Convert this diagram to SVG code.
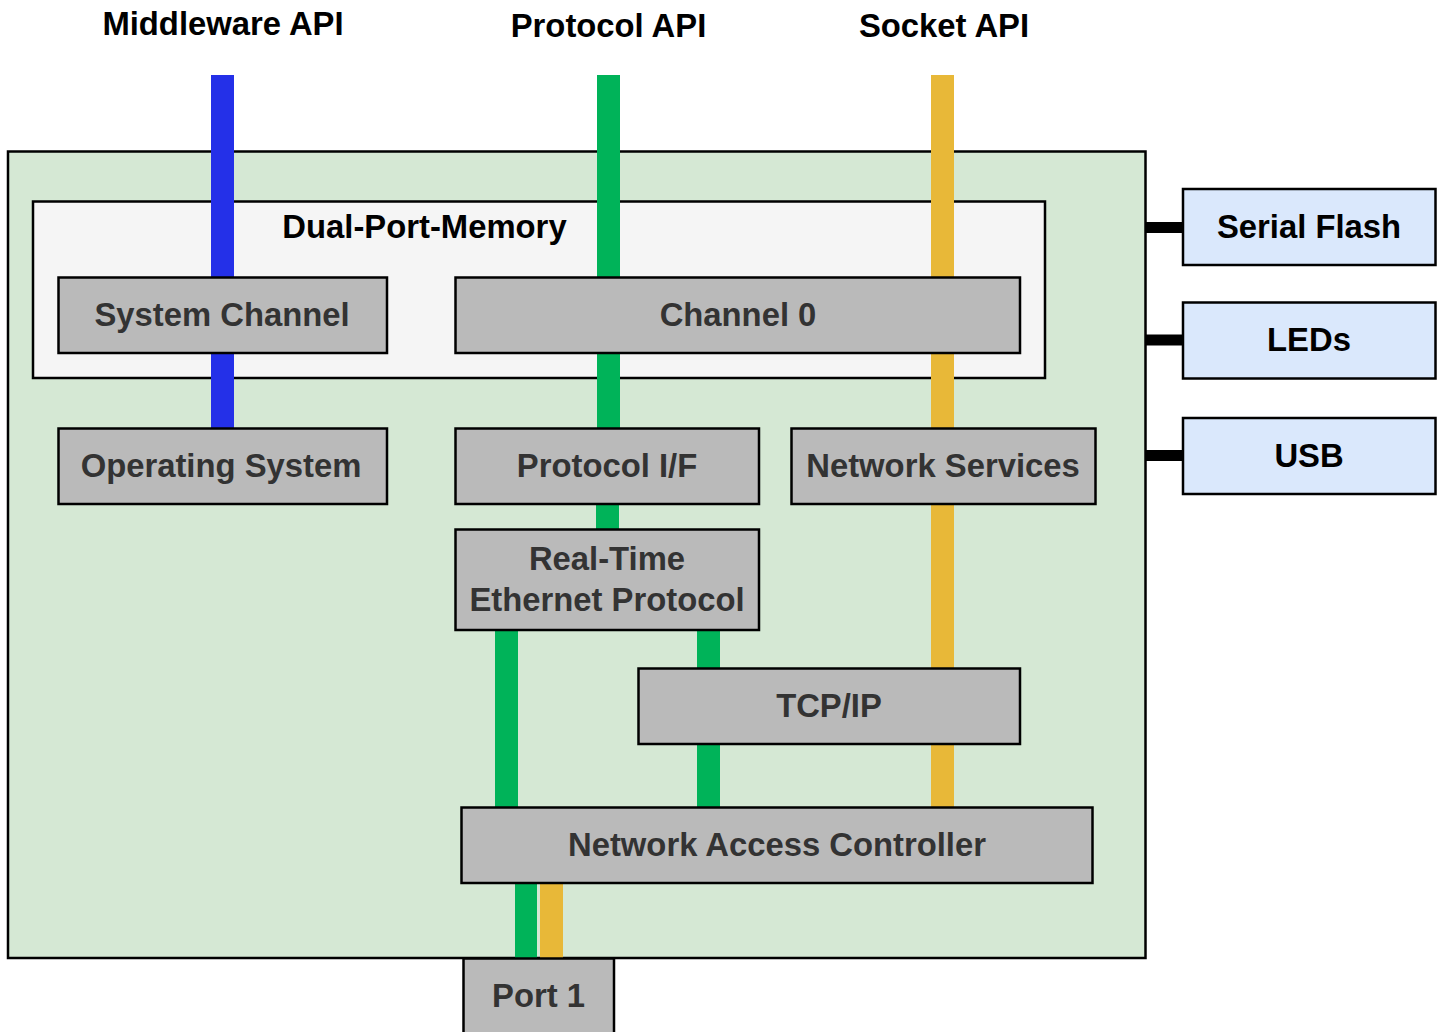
<svg xmlns="http://www.w3.org/2000/svg" width="1443" height="1032" viewBox="0 0 1443 1032">
<style>
.t{font-family:"Liberation Sans",Arial,sans-serif;font-weight:bold;font-size:32.8px;text-anchor:middle}
.title{fill:#000}
.nt{fill:#333333}
.node{fill:#bababa;stroke:#000;stroke-width:2.5}
.ext{fill:#dae8fc;stroke:#000;stroke-width:2.5}
.blue{fill:#2430e8}
.green{fill:#00b359}
.yellow{fill:#e8b838}
</style>
<rect width="1443" height="1032" fill="#fff"/>
<g id="titles">
<text class="t title" x="223" y="35">Middleware API</text>
<text class="t title" x="608.5" y="37">Protocol API</text>
<text class="t title" x="944" y="37">Socket API</text>
</g>
<g id="device">
<rect x="8" y="151.5" width="1137.5" height="806.5" fill="#d5e8d4" stroke="#000" stroke-width="2.5"/>
</g>
<g id="dual-port-memory">
<rect x="33" y="201.5" width="1012" height="176.5" fill="#f5f5f5" stroke="#000" stroke-width="2.5"/>
<text class="t title" x="424.5" y="238">Dual-Port-Memory</text>
</g>
<g id="connectors">
<rect class="blue" x="211" y="75" width="23" height="354"/>
<rect class="green" x="597" y="75" width="23" height="354"/>
<rect class="green" x="596" y="503" width="23" height="27"/>
<rect class="green" x="495" y="630" width="23" height="178"/>
<rect class="green" x="697" y="630" width="23" height="178"/>
<rect class="yellow" x="931" y="75" width="23" height="354"/>
<rect class="yellow" x="931" y="503" width="23" height="305"/>
<rect class="green" x="515" y="882" width="22" height="77"/>
<rect class="yellow" x="540" y="882" width="23" height="77"/>
<rect fill="#000" x="1146" y="222" width="37" height="11"/>
<rect fill="#000" x="1146" y="334.5" width="37" height="11"/>
<rect fill="#000" x="1146" y="450" width="37" height="11"/>
</g>
<g id="system-channel">
<rect class="node" x="58.5" y="277.5" width="328.5" height="75.5"/>
<text class="t nt" x="222" y="326">System Channel</text>
</g>
<g id="channel-0">
<rect class="node" x="455.5" y="277.5" width="564.5" height="75.5"/>
<text class="t nt" x="738" y="326">Channel 0</text>
</g>
<g id="operating-system">
<rect class="node" x="58.5" y="428.5" width="328.5" height="75.5"/>
<text class="t nt" x="221" y="477">Operating System</text>
</g>
<g id="protocol-if">
<rect class="node" x="455.5" y="428.5" width="303.5" height="75.5"/>
<text class="t nt" x="607" y="477">Protocol I/F</text>
</g>
<g id="network-services">
<rect class="node" x="791.5" y="428.5" width="304" height="75.5"/>
<text class="t nt" x="943" y="477">Network Services</text>
</g>
<g id="real-time-ethernet-protocol">
<rect class="node" x="455.5" y="529.5" width="303.5" height="100.5"/>
<text class="t nt" x="607" y="570">Real-Time</text>
<text class="t nt" x="607" y="611">Ethernet Protocol</text>
</g>
<g id="tcp-ip">
<rect class="node" x="638.5" y="668.5" width="381.5" height="75.5"/>
<text class="t nt" x="829" y="717">TCP/IP</text>
</g>
<g id="network-access-controller">
<rect class="node" x="461.5" y="807.5" width="631" height="75.5"/>
<text class="t nt" x="777" y="856">Network Access Controller</text>
</g>
<g id="port-1">
<rect class="node" x="463.5" y="958.5" width="150.5" height="80"/>
<text class="t nt" x="538.5" y="1007">Port 1</text>
</g>
<g id="serial-flash">
<rect class="ext" x="1183" y="189" width="252.5" height="76"/>
<text class="t title" x="1309" y="238">Serial Flash</text>
</g>
<g id="leds">
<rect class="ext" x="1183" y="302.5" width="252.5" height="76"/>
<text class="t title" x="1309" y="351">LEDs</text>
</g>
<g id="usb">
<rect class="ext" x="1183" y="418" width="252.5" height="76"/>
<text class="t title" x="1309" y="467">USB</text>
</g>
</svg>
